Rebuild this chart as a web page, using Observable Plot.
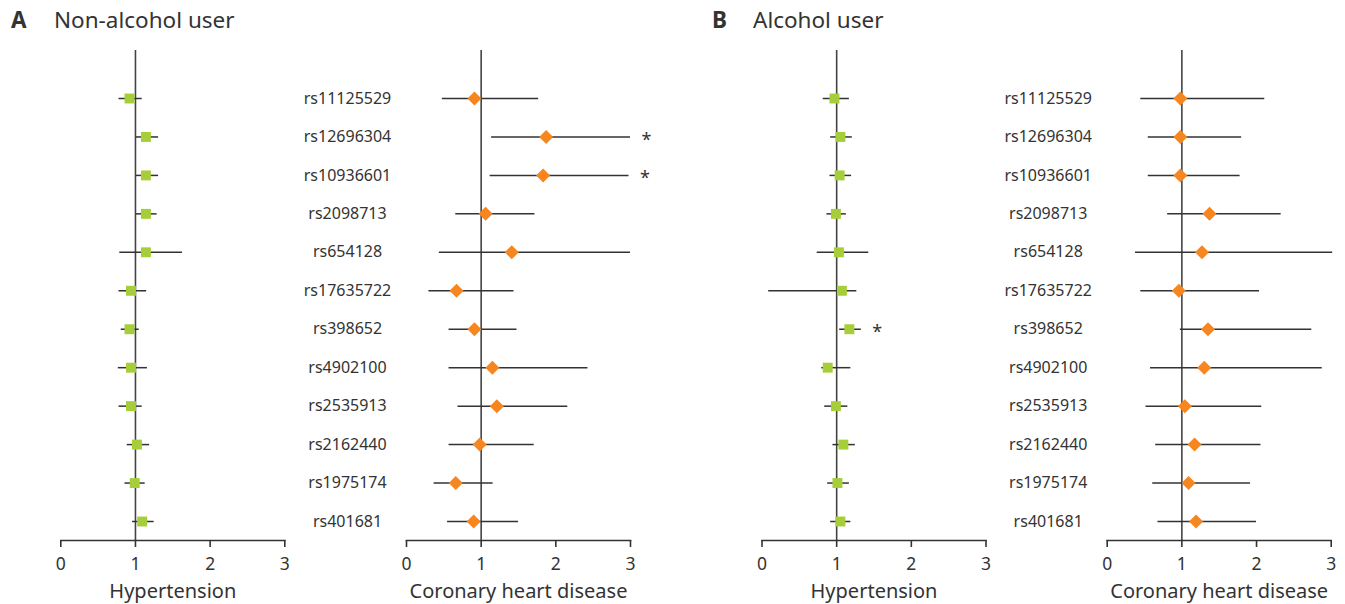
<!DOCTYPE html>
<html>
<head>
<meta charset="utf-8">
<script src="https://cdn.jsdelivr.net/npm/d3@7"></script>
<script src="https://cdn.jsdelivr.net/npm/@observablehq/plot@0.6"></script>
<style>
  html, body { margin: 0; padding: 0; background: #fff; }
  #root { position: relative; width: 1345px; height: 604px; overflow: hidden; font-family: "Noto Sans", sans-serif; color: #333; }
  .panel { position: absolute; top: 0; }
  .title { position: absolute; top: 9px; font-size: 22.5px; line-height: 1; white-space: nowrap; color: #333; }
  .title b { position: absolute; left: 0; font-weight: 700; }
</style>
</head>
<body>
<div id="root">
  <div class="title" style="left:11px"><b>A</b><span style="position:absolute;left:43px">Non-alcohol user</span></div>
  <div class="title" style="left:712px"><b>B</b><span style="position:absolute;left:41px">Alcohol user</span></div>
</div>
<script>
const snps = ["rs11125529","rs12696304","rs10936601","rs2098713","rs654128","rs17635722","rs398652","rs4902100","rs2535913","rs2162440","rs1975174","rs401681"];

// Non-alcohol user, hypertension
const hypNon   = [0.92,1.14,1.14,1.14,1.14,0.94,0.92,0.94,0.94,1.02,0.99,1.09];
const hypNonLo = [0.78,1.01,1.01,1.01,0.79,0.78,0.81,0.77,0.78,0.89,0.86,0.96];
const hypNonHi = [1.09,1.31,1.31,1.29,1.63,1.15,1.05,1.16,1.09,1.19,1.13,1.25];
// Non-alcohol user, coronary heart disease
const chdNon   = [0.91,1.87,1.83,1.06,1.41,0.67,0.91,1.15,1.21,0.98,0.66,0.90];
const chdNonLo = [0.48,1.14,1.12,0.66,0.44,0.30,0.57,0.57,0.69,0.57,0.37,0.55];
const chdNonHi = [1.77,3.00,2.98,1.72,3.00,1.44,1.48,2.43,2.16,1.71,1.16,1.50];
// Alcohol user, hypertension
const hypAlc   = [0.97,1.05,1.04,0.99,1.03,1.07,1.17,0.88,0.99,1.09,1.01,1.05];
const hypAlcLo = [0.82,0.92,0.91,0.87,0.74,0.09,1.04,0.80,0.84,0.95,0.88,0.92];
const hypAlcHi = [1.17,1.21,1.20,1.13,1.43,1.27,1.33,1.19,1.15,1.25,1.17,1.19];
// Alcohol user, coronary heart disease
const chdAlc   = [0.98,0.98,0.98,1.37,1.27,0.96,1.35,1.30,1.04,1.17,1.09,1.19];
const chdAlcLo = [0.45,0.55,0.55,0.81,0.38,0.45,0.98,0.58,0.52,0.65,0.61,0.68];
const chdAlcHi = [2.11,1.80,1.78,2.33,3.02,2.04,2.74,2.88,2.07,2.06,1.92,2.00];

const sigChdNon = ["rs12696304","rs10936601"];
const sigHypNon = [];
const sigHypAlc = ["rs398652"];
const sigChdAlc = [];

const xTicks = [0, 1, 2, 3];

const diamond = {
  draw(ctx, size) {
    const r = Math.sqrt(size / Math.PI);
    ctx.moveTo(0, -r); ctx.lineTo(r, 0); ctx.lineTo(0, r); ctx.lineTo(-r, 0); ctx.closePath();
  }
};

function panel({values, lo, hi, sig, kind, left, width, ml, mr, label, showLabels}) {
  const data = snps.map((s, i) => ({snp: s, v: values[i], lo: lo[i], hi: hi[i]}));
  const sigData = data.filter(d => sig.includes(d.snp));
  const isHyp = kind === "hyp";
  const svg = Plot.plot({
    width, height: 604,
    marginLeft: ml, marginRight: mr, marginTop: 50, marginBottom: 64,
    style: {background: "transparent", overflow: "visible", fontFamily: "Noto Sans, sans-serif", color: "#333"},
    x: {domain: [0, 3]},
    y: {type: "point", domain: snps, range: [98, 521], padding: 0, round: false, axis: null},
    marks: [
      Plot.ruleX([1], {stroke: "#444", strokeWidth: 1.6}),
      Plot.ruleY(data, {y: "snp", x1: "lo", x2: "hi", stroke: "#333", strokeWidth: 1.5}),
      Plot.dot(data, isHyp
        ? {x: "v", y: "snp", symbol: "square", r: 5.6, fill: "#a6ce39", stroke: null}
        : {x: "v", y: "snp", symbol: diamond, r: 7, fill: "#f6861f", stroke: null}),
      Plot.text(sigData, {x: "hi", y: "snp", text: () => "*", dx: 16, dy: 3, fontSize: 18, fill: "#333"}),
      Plot.frame({anchor: "bottom", stroke: "#333", strokeWidth: 1.6}),
      Plot.axisX({ticks: xTicks, tickSize: 7, tickPadding: 10, tickFormat: d => String(d), stroke: "#333", strokeWidth: 1.6, fill: "#333", fontSize: 17.5, label: null}),
      Plot.text([label], {frameAnchor: "bottom", dy: 57, text: d => d, fontSize: 20, fill: "#333"}),
      showLabels
        ? Plot.text(data, {y: "snp", text: "snp", frameAnchor: "left", dx: -59, textAnchor: "middle", fontSize: 16, fill: "#333"})
        : null
    ]
  });
  svg.classList.add("panel");
  svg.style.position = "absolute";
  svg.style.left = left + "px";
  svg.style.top = "0px";
  document.getElementById("root").appendChild(svg);
}

panel({values: hypNon, lo: hypNonLo, hi: hypNonHi, sig: sigHypNon, kind: "hyp", left: 0, width: 300, ml: 60.3, mr: 300 - 284.3, label: "Hypertension", showLabels: false});
panel({values: chdNon, lo: chdNonLo, hi: chdNonHi, sig: sigChdNon, kind: "chd", left: 260, width: 400, ml: 146, mr: 660 - 630, label: "Coronary heart disease", showLabels: true});
panel({values: hypAlc, lo: hypAlcLo, hi: hypAlcHi, sig: sigHypAlc, kind: "hyp", left: 700, width: 300, ml: 61.5, mr: 1000 - 985.5, label: "Hypertension", showLabels: false});
panel({values: chdAlc, lo: chdAlcLo, hi: chdAlcHi, sig: sigChdAlc, kind: "chd", left: 960, width: 385, ml: 146.7, mr: 1345 - 1330.7, label: "Coronary heart disease", showLabels: true});
</script>
</body>
</html>
